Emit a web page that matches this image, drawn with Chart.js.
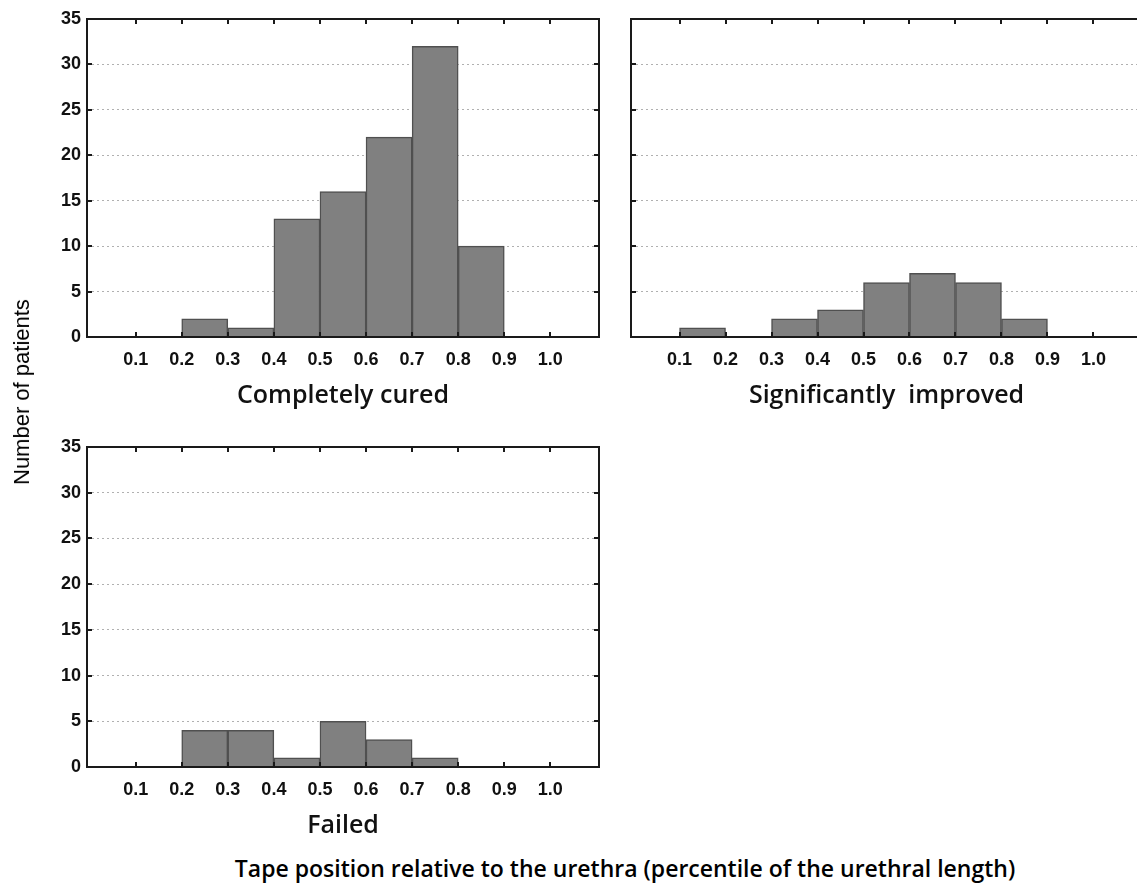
<!DOCTYPE html>
<html>
<head>
<meta charset="utf-8">
<script src="https://cdn.jsdelivr.net/npm/chart.js@4.4.0/dist/chart.umd.min.js"></script>
<style>
  html, body { margin: 0; padding: 0; background: #fff; }
  body { width: 1137px; height: 883px; position: relative; overflow: hidden; }
  canvas { position: absolute; }
  .txt { position: absolute; color: #000; white-space: pre; }
  #ytitle { font-family: 'Liberation Sans', Arial, sans-serif; font-size: 22px;
            left: 22px; top: 392px; transform: translate(-50%, -50%) rotate(-90deg); }
  #xtitle { font-family: 'Open Sans', sans-serif; font-size: 23px; font-weight: 600;
            left: 625px; top: 868px; transform: translate(-50%, -50%); }
</style>
</head>
<body>
<canvas id="c1" width="615" height="420" style="left:0px;top:0px"></canvas>
<canvas id="c2" width="540" height="420" style="left:615px;top:0px"></canvas>
<canvas id="c3" width="615" height="420" style="left:0px;top:430px"></canvas>
<div id="ytitle" class="txt">Number of patients</div>
<div id="xtitle" class="txt">Tape position relative to the urethra (percentile of the urethral length)</div>
<script>
// ---- data ----
const binCenters = [0.15, 0.25, 0.35, 0.45, 0.55, 0.65, 0.75, 0.85, 0.95];
const tickValues = [0.1, 0.2, 0.3, 0.4, 0.5, 0.6, 0.7, 0.8, 0.9, 1.0];
const tickLabels = ['0.1', '0.2', '0.3', '0.4', '0.5', '0.6', '0.7', '0.8', '0.9', '1.0'];
const curedCounts    = [0, 2, 1, 13, 16, 22, 32, 10, 0];
const improvedCounts = [1, 0, 2, 3, 6, 7, 6, 2, 0];
const failedCounts   = [0, 4, 4, 1, 5, 3, 1, 0, 0];
const panelTitles = ['Completely cured', 'Significantly  improved', 'Failed'];
const yTickStep = 5;
const yMax = 35;

// ---- drawing ----
const framePlugin = {
  id: 'frame',
  afterDraw(chart) {
    const { ctx, chartArea: a, scales: { x, y } } = chart;
    ctx.save();
    ctx.strokeStyle = '#1a1a1a';
    ctx.lineWidth = 2;
    ctx.strokeRect(a.left, a.top, a.right - a.left, a.bottom - a.top);
    ctx.beginPath();
    x.ticks.forEach(t => {
      const px = Math.round(x.getPixelForValue(t.value));
      ctx.moveTo(px, a.bottom); ctx.lineTo(px, a.bottom - 5);
      ctx.moveTo(px, a.top); ctx.lineTo(px, a.top + 5);
    });
    y.ticks.forEach(t => {
      const py = Math.round(y.getPixelForValue(t.value));
      ctx.moveTo(a.left, py); ctx.lineTo(a.left + 5, py);
      ctx.moveTo(a.right, py); ctx.lineTo(a.right - 5, py);
    });
    ctx.stroke();
    ctx.restore();
  }
};

const tickFont = { family: "'Liberation Sans', Arial, sans-serif", size: 18, weight: 'bold' };

function makePanel(id, counts, title, opts) {
  const data = binCenters.map((c, i) => ({ x: c, y: counts[i] }));
  return new Chart(document.getElementById(id), {
    type: 'bar',
    data: {
      datasets: [{
        data: data,
        backgroundColor: '#808080',
        borderColor: '#505050',
        borderWidth: 1.5,
        borderSkipped: 'start',
        barPercentage: 1,
        categoryPercentage: 1
      }]
    },
    plugins: [framePlugin],
    options: {
      responsive: false,
      animation: false,
      layout: { padding: { left: 0, top: opts.padTop, right: opts.padRight, bottom: 0 } },
      plugins: { legend: { display: false }, tooltip: { enabled: false } },
      scales: {
        x: {
          type: 'linear',
          min: 0.05,
          max: 1.05,
          afterBuildTicks: s => { s.ticks = tickValues.map(v => ({ value: v })); },
          afterFit: s => { s.height = opts.xHeight; },
          grid: { display: false, drawTicks: false },
          border: { display: false },
          ticks: {
            padding: 12,
            color: '#111',
            font: tickFont,
            callback: (v, i) => tickLabels[i]
          },
          title: {
            display: true,
            text: title,
            color: '#111',
            padding: { top: 0, bottom: 9 },
            font: { family: "'Open Sans', sans-serif", size: 25, weight: '600' }
          }
        },
        y: {
          min: 0,
          max: yMax,
          afterFit: s => { s.width = opts.yWidth; },
          grid: {
            drawTicks: false,
            color: ctx => (ctx.tick && (ctx.tick.value === 0 || ctx.tick.value === yMax)) ? 'rgba(0,0,0,0)' : '#b0b0b0',
            lineWidth: 1
          },
          border: { display: false, dash: [2, 3] },
          ticks: {
            display: opts.yLabels,
            stepSize: yTickStep,
            padding: 6,
            color: '#111',
            font: tickFont
          }
        }
      }
    }
  });
}

makePanel('c1', curedCounts, panelTitles[0], { padTop: 19, padRight: 16, xHeight: 83, yWidth: 87, yLabels: true });
makePanel('c2', improvedCounts, panelTitles[1], { padTop: 19, padRight: 13, xHeight: 83, yWidth: 16, yLabels: false });
makePanel('c3', failedCounts, panelTitles[2], { padTop: 17, padRight: 16, xHeight: 83, yWidth: 87, yLabels: true });
</script>
</body>
</html>
